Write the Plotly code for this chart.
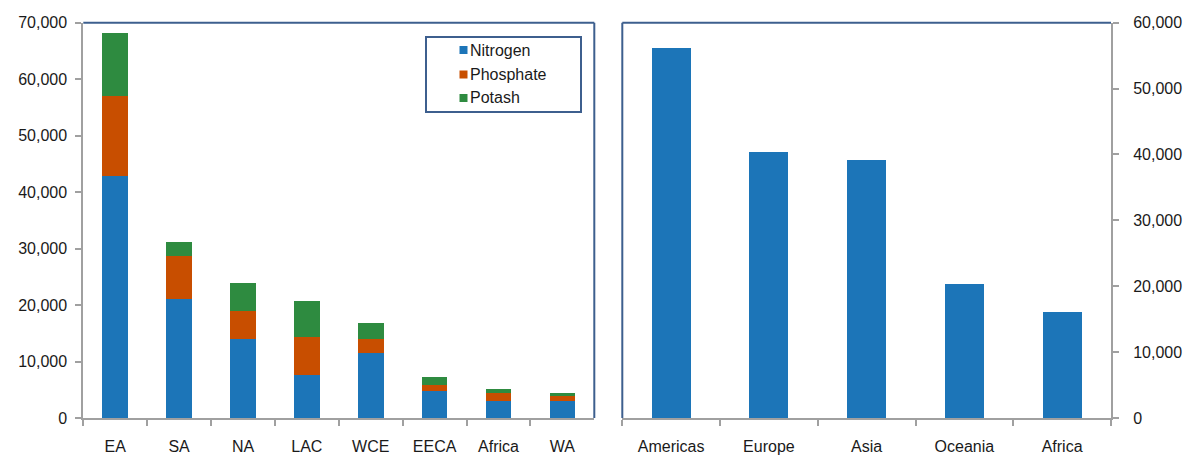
import plotly.graph_objects as go

# Fertilizer use by region (thousand tonnes), stacked by nutrient
regions = ["EA", "SA", "NA", "LAC", "WCE", "EECA", "Africa", "WA"]
nitrogen = [42900, 21100, 14000, 7600, 11500, 4800, 3000, 3000]
phosphate = [14200, 7500, 5000, 6700, 2500, 1050, 1400, 900]
potash = [11000, 2500, 4950, 6450, 2850, 1350, 750, 500]
nutrients = ["Nitrogen", "Phosphate", "Potash"]

# Totals by continent
continents = ["Americas", "Europe", "Asia", "Oceania", "Africa"]
continent_totals = [56200, 40400, 39200, 20300, 16100]

BLUE = "#1c75b8"
ORANGE = "#c84e00"
GREEN = "#2e8b40"
AXIS_GREY = "#a0a0a0"
FRAME_BLUE = "#3d5f8e"
TEXT = "#1a1a1a"
FONT = "Liberation Sans, Arial, sans-serif"
FS = 16

W, H = 1183, 457


def px_x(p):
    return p / W


def px_y(p):
    return 1 - p / H


fig = go.Figure()

series = [nitrogen, phosphate, potash]
colors = [BLUE, ORANGE, GREEN]
for name, vals, col in zip(nutrients, series, colors):
    fig.add_trace(go.Bar(x=regions, y=vals, name=name, marker_color=col,
                         marker_line_width=0, xaxis="x", yaxis="y",
                         showlegend=False))

fig.add_trace(go.Bar(x=continents, y=continent_totals, name="Total",
                     marker_color=BLUE, marker_line_width=0,
                     showlegend=False, xaxis="x2", yaxis="y2"))

ydom = [px_y(418), px_y(22.7)]
common_x = dict(type="category", showline=True, linecolor=AXIS_GREY, linewidth=2,
                ticks="outside", tickson="boundaries", ticklen=6,
                tickcolor=AXIS_GREY, tickwidth=1.5, showgrid=False,
                zeroline=False, automargin=False, ticklabelstandoff=13,
                tickfont=dict(family=FONT, size=FS, color=TEXT))
common_y = dict(showline=True, linecolor=AXIS_GREY, linewidth=2,
                ticks="outside", ticklen=6, tickcolor=AXIS_GREY, tickwidth=1.5,
                showgrid=False, zeroline=False, automargin=False,
                dtick=10000, tickformat=",",
                tickfont=dict(family=FONT, size=FS, color=TEXT))

fig.update_layout(
    width=W, height=H,
    margin=dict(l=0, r=0, t=0, b=0),
    paper_bgcolor="white", plot_bgcolor="white",
    barmode="stack", bargap=0.6,
    font=dict(family=FONT, color=TEXT),
    xaxis=dict(domain=[px_x(83.3), px_x(594.3)], anchor="y", **common_x),
    yaxis=dict(domain=ydom, anchor="x", range=[0, 70000], side="left",
               ticklabelstandoff=5, **common_y),
    xaxis2=dict(domain=[px_x(622.3), px_x(1111)], anchor="y2", **common_x),
    yaxis2=dict(domain=ydom, anchor="x2", range=[0, 60000], side="right",
                ticklabelstandoff=11, **common_y),
    showlegend=False,
)

# Dark frame on the open sides of each plot area
frame = dict(type="line", line=dict(color=FRAME_BLUE, width=2), layer="above")
fig.add_shape(xref="x domain", yref="y domain", x0=0, x1=1, y0=1, y1=1, **frame)
fig.add_shape(xref="x domain", yref="y domain", x0=1, x1=1, y0=0, y1=1, **frame)
fig.add_shape(xref="x2 domain", yref="y2 domain", x0=0, x1=1, y0=1, y1=1, **frame)
fig.add_shape(xref="x2 domain", yref="y2 domain", x0=0, x1=0, y0=0, y1=1, **frame)

# Legend box with compact swatches next to the labels
fig.add_shape(type="rect", xref="paper", yref="paper",
              x0=px_x(426), x1=px_x(581), y0=px_y(112), y1=px_y(37),
              line=dict(color=FRAME_BLUE, width=2), fillcolor="white",
              layer="above")
row_y = [50, 74.5, 98]
for name, col, yc in zip(nutrients, colors, row_y):
    fig.add_shape(type="rect", xref="paper", yref="paper",
                  x0=px_x(459.5), x1=px_x(467.5),
                  y0=px_y(yc + 4), y1=px_y(yc - 4),
                  line=dict(width=0), fillcolor=col, layer="above")
    fig.add_annotation(xref="paper", yref="paper", x=px_x(468), y=px_y(yc),
                       xanchor="left", yanchor="middle", showarrow=False,
                       text=name, font=dict(family=FONT, size=FS, color=TEXT))

fig.write_html("out.html")
